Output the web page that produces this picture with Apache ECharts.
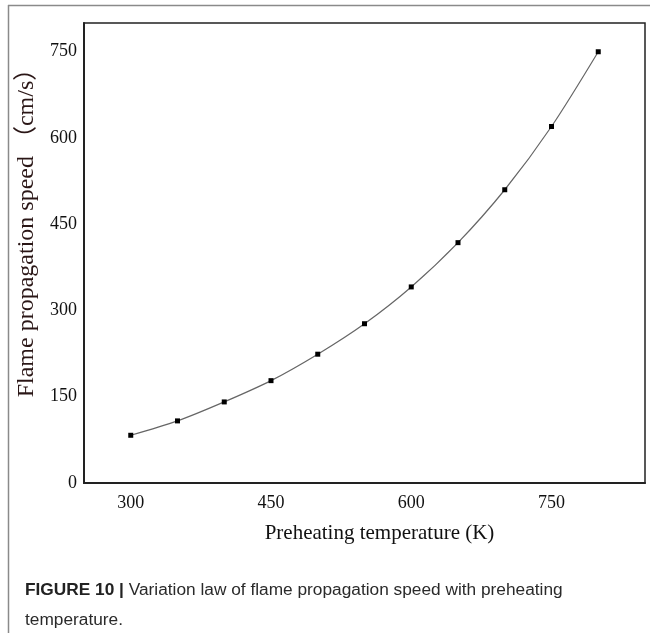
<!DOCTYPE html>
<html>
<head>
<meta charset="utf-8">
<script src="https://cdn.jsdelivr.net/npm/echarts@6/dist/echarts.min.js"></script>
<style>
html, body { margin: 0; padding: 0; background: #fff; }
#main { width: 650px; height: 633px; }
</style>
</head>
<body>
<div id="main"></div>
<script>
var temperatures = [300, 350, 400, 450, 500, 550, 600, 650, 700, 750, 800];
var speeds = [83, 108, 141, 178, 224, 277, 341, 418, 510, 620, 750];
var xTickLabels = [300, 450, 600, 750];
var yTickLabels = [0, 150, 300, 450, 600, 750];

var serif = '"Liberation Serif", "Times New Roman", "Noto Sans CJK SC", serif';
var sans = '"Liberation Sans", Arial, sans-serif';

function drawSpeedChart(id)
{
    var labelStyle = {
        color: '#111',
        fontFamily: serif,
        fontSize: 18
    };
    var points = temperatures.map(function(t, i) { return [t, speeds[i]]; });

    var chart = echarts.init(document.getElementById(id));
    var option = {
        animation: false,
        title: {
            left: 25,
            top: 575,
            padding: 0,
            text: '{b|FIGURE 10 |} Variation law of flame propagation speed with preheating\ntemperature.',
            textStyle: {
                color: '#2a2a2a',
                fontFamily: sans,
                fontSize: 17.3,
                fontWeight: 'normal',
                lineHeight: 30,
                rich: {
                    b: {fontFamily: sans, fontSize: 17.3, fontWeight: 'bold', color: '#222', lineHeight: 30}
                }
            }
        },
        graphic: [
            {type: 'line', shape: {x1: 8, y1: 5.5, x2: 650, y2: 5.5}, style: {stroke: '#8a8a8a', lineWidth: 1.5}},
            {type: 'line', shape: {x1: 8.5, y1: 5, x2: 8.5, y2: 633}, style: {stroke: '#8a8a8a', lineWidth: 1.5}}
        ],
        grid: {
            left: 84,
            top: 23,
            right: 5,
            bottom: 150,
            show: true,
            borderColor: '#222',
            borderWidth: 1.5
        },
        xAxis: {
            type: 'value',
            min: 250,
            max: 850,
            interval: 50,
            name: 'Preheating temperature (K)',
            nameLocation: 'middle',
            nameGap: 40,
            nameTextStyle: {color: '#111', fontFamily: serif, fontSize: 21, padding: [0, 0, 0, 30]},
            axisLine: {show: true, lineStyle: {color: '#222', width: 2}},
            axisTick: {show: false},
            splitLine: {show: false},
            axisLabel: Object.assign({
                margin: 11,
                formatter: function(v) { return xTickLabels.indexOf(v) >= 0 ? String(v) : ''; }
            }, labelStyle)
        },
        yAxis: {
            type: 'value',
            min: 0,
            max: 800,
            interval: 50,
            name: 'Flame propagation speed （cm/s）',
            nameLocation: 'middle',
            nameGap: 42,
            nameTextStyle: {color: '#2a1616', fontFamily: serif, fontSize: 24, padding: [0, 0, 0, 52]},
            axisLine: {show: true, lineStyle: {color: '#222', width: 2}},
            axisTick: {show: false},
            splitLine: {show: false},
            axisLabel: Object.assign({
                margin: 7,
                formatter: function(v) { return yTickLabels.indexOf(v) >= 0 ? String(v) : ''; }
            }, labelStyle)
        },
        series: [
            {
                type: 'line',
                data: points,
                smooth: 0.3,
                symbol: 'rect',
                symbolSize: 5,
                lineStyle: {color: '#666', width: 1.2},
                itemStyle: {color: '#000'}
            }
        ]
    };
    chart.setOption(option);
    return chart;
}

drawSpeedChart('main');
</script>
</body>
</html>
